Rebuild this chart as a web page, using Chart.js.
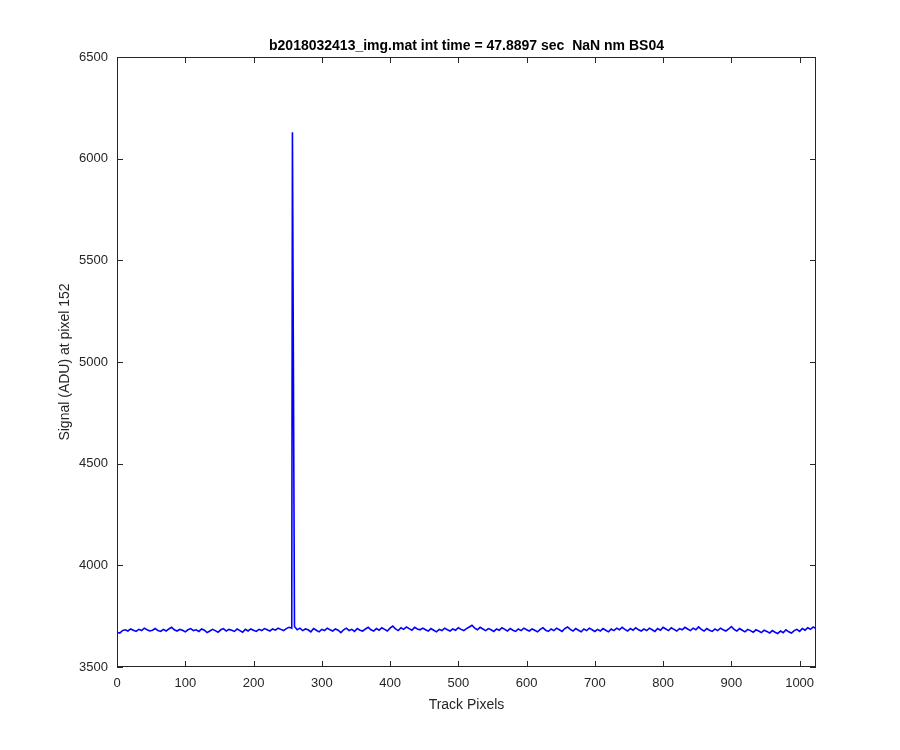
<!DOCTYPE html>
<html>
<head>
<meta charset="utf-8">
<title>Signal at pixel 152</title>
<script src="https://cdn.jsdelivr.net/npm/chart.js@4.4.1/dist/chart.umd.min.js"></script>
<style>
  html, body { margin: 0; padding: 0; background: #fff; }
</style>
</head>
<body>
<canvas id="chart" width="900" height="750"></canvas>
<script>
// track pixel step used for the baseline samples
const pixelStep = 4;

// baseline signal (ADU), one sample every 4 track pixels, 0..1024
const baseline = [
  3671,3667,3679,3683,3677,3687,3681,3675,3685,3679,3691,3683,3677,3681,3689,3679,
  3675,3685,3677,3687,3695,3683,3677,3685,3681,3673,3683,3689,3679,3683,3675,3687,
  3681,3669,3677,3685,3679,3671,3683,3689,3677,3685,3681,3675,3687,3679,3671,3685,
  3677,3687,3681,3675,3685,3679,3689,3683,3677,3687,3681,3691,3685,3679,3689,3695,
  3691,3699,3683,3691,3679,3687,3683,3673,3689,3681,3673,3685,3679,3691,3683,3677,
  3687,3681,3669,3683,3691,3679,3685,3675,3689,3681,3677,3687,3695,3683,3677,3689,
  3681,3693,3685,3677,3691,3701,3687,3679,3693,3685,3697,3689,3681,3695,3687,3683,
  3691,3683,3677,3689,3681,3673,3685,3679,3691,3683,3677,3687,3681,3693,3685,3679,
  3689,3697,3705,3691,3683,3695,3687,3679,3689,3683,3675,3687,3681,3693,3685,3677,
  3689,3681,3675,3687,3679,3691,3683,3677,3687,3681,3673,3685,3693,3681,3675,3687,
  3679,3691,3683,3675,3689,3697,3685,3677,3689,3681,3673,3687,3679,3691,3683,3675,
  3685,3677,3689,3681,3673,3687,3679,3691,3683,3695,3685,3677,3689,3681,3693,3683,
  3677,3687,3679,3691,3683,3675,3689,3681,3695,3687,3679,3693,3685,3677,3689,3683,
  3695,3687,3679,3691,3683,3697,3685,3677,3689,3681,3675,3687,3679,3691,3683,3677,
  3687,3699,3685,3677,3689,3681,3673,3685,3679,3671,3683,3677,3669,3681,3675,3667,
  3679,3671,3665,3677,3669,3683,3673,3667,3679,3685,3675,3689,3681,3693,3685,3697,
  3689
];

// the single hot pixel
const spikeX = [257];
const spikeY = [6130];

const xTicks = [0, 100, 200, 300, 400, 500, 600, 700, 800, 900, 1000];
const yTicks = [3500, 4000, 4500, 5000, 5500, 6000, 6500];

const titleText = 'b2018032413_img.mat int time = 47.8897 sec  NaN nm BS04';
const xLabel = 'Track Pixels';
const yLabel = 'Signal (ADU) at pixel 152';

const points = baseline.map((v, i) => ({ x: i * pixelStep, y: v }))
  .concat(spikeX.map((px, i) => ({ x: px, y: spikeY[i] })))
  .sort((a, b) => a.x - b.x);

const INK = '#262626';
const FONT = "'Liberation Sans', Arial, Helvetica, sans-serif";
const TICK = 6;

// matlab style box with inward ticks on all four sides
const axesFrame = {
  id: 'axesFrame',
  afterDraw(chart) {
    const { ctx, chartArea: a, scales } = chart;
    ctx.save();
    ctx.strokeStyle = INK;
    ctx.lineWidth = 1;
    ctx.strokeRect(a.left + 0.5, a.top + 0.5, a.right - a.left - 1, a.bottom - a.top - 1);
    ctx.beginPath();
    xTicks.forEach(v => {
      const px = Math.round(scales.x.getPixelForValue(v)) + 0.5;
      ctx.moveTo(px, a.bottom); ctx.lineTo(px, a.bottom - TICK);
      ctx.moveTo(px, a.top); ctx.lineTo(px, a.top + TICK);
    });
    yTicks.forEach(v => {
      const py = Math.round(scales.y.getPixelForValue(v)) + 0.5;
      ctx.moveTo(a.left, py); ctx.lineTo(a.left + TICK, py);
      ctx.moveTo(a.right, py); ctx.lineTo(a.right - TICK, py);
    });
    ctx.stroke();
    ctx.restore();
  }
};

new Chart(document.getElementById('chart'), {
  type: 'line',
  data: {
    datasets: [{
      data: points,
      borderColor: '#0000ff',
      borderWidth: 1.6,
      pointRadius: 0,
      tension: 0,
      fill: false
    }]
  },
  options: {
    responsive: false,
    animation: false,
    layout: { padding: { left: 0, right: 84, top: 0, bottom: 0 } },
    plugins: {
      legend: { display: false },
      tooltip: { enabled: false },
      title: {
        display: true,
        text: titleText,
        fullSize: false,
        color: '#000',
        font: { family: FONT, size: 14, weight: 'bold', lineHeight: 1 },
        padding: { top: 39, bottom: 4 }
      }
    },
    scales: {
      x: {
        type: 'linear',
        min: 0,
        max: 1024,
        afterBuildTicks: s => { s.ticks = xTicks.map(v => ({ value: v })); },
        afterFit: s => { s.height = 83; },
        grid: { display: false, drawTicks: false },
        border: { display: false },
        ticks: {
          color: INK, padding: 9, maxRotation: 0,
          font: { family: FONT, size: 13 },
          callback: v => String(v)
        },
        title: {
          display: true,
          text: xLabel,
          color: INK,
          font: { family: FONT, size: 14 },
          padding: { top: 0, bottom: 36 }
        }
      },
      y: {
        type: 'linear',
        min: 3500,
        max: 6500,
        afterBuildTicks: s => { s.ticks = yTicks.map(v => ({ value: v })); },
        afterFit: s => { s.width = 117; },
        grid: { display: false, drawTicks: false },
        border: { display: false },
        ticks: {
          color: INK, padding: 9,
          font: { family: FONT, size: 13 },
          callback: v => String(v)
        },
        title: {
          display: true,
          text: yLabel,
          color: INK,
          font: { family: FONT, size: 14 },
          padding: { top: 57, bottom: 0 }
        }
      }
    }
  },
  plugins: [axesFrame]
});
</script>
</body>
</html>
